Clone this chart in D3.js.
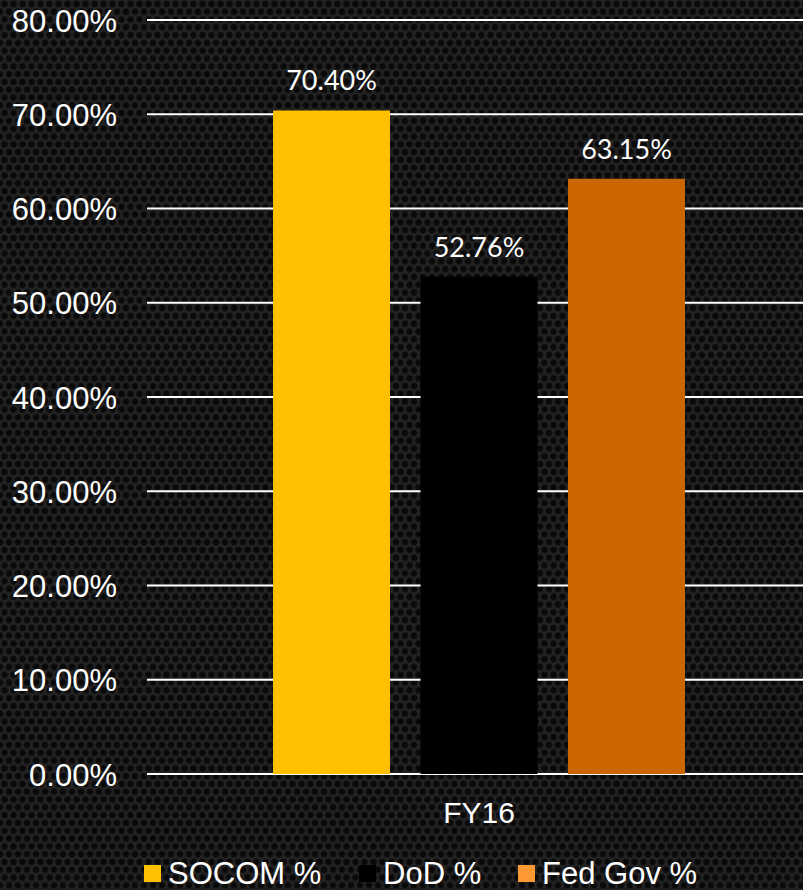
<!DOCTYPE html>
<html><head><meta charset="utf-8">
<script src="https://cdn.jsdelivr.net/npm/d3@7"></script>
<style>html,body{margin:0;padding:0;background:#1a1a1a;overflow:hidden}</style>
</head><body>
<svg id="chart" width="803" height="890"></svg>
<script>
const categories = ["FY16"];
const seriesNames = ["SOCOM %", "DoD %", "Fed Gov %"];
const seriesValues = [70.40, 52.76, 63.15];
const barColors = ["#FFC000", "#000000", "#CC6600"];
const legendColors = ["#FFC000", "#000000", "#FF9933"];
const yTicks = [0, 10, 20, 30, 40, 50, 60, 70, 80];

const svg = d3.select("#chart");
const W = 803, H = 890;
const defs = svg.append("defs");
const rg = defs.append("radialGradient").attr("id","dot");
rg.append("stop").attr("offset","0%").attr("stop-color","#060606");
rg.append("stop").attr("offset","70%").attr("stop-color","#0c0c0c");
rg.append("stop").attr("offset","100%").attr("stop-color","#1c1c1c");
const pat = defs.append("pattern").attr("id","hex").attr("patternUnits","userSpaceOnUse")
  .attr("width",9).attr("height",15.6);
pat.append("rect").attr("width",9).attr("height",15.6).attr("fill","#242424");
[[4.5,3.9],[0,11.7],[9,11.7]].forEach(([cx,cy])=>{
  pat.append("circle").attr("cx",cx).attr("cy",cy).attr("r",3.8).attr("fill","url(#dot)");
});
svg.append("rect").attr("width",W).attr("height",H).attr("fill","url(#hex)");

const y = d3.scaleLinear().domain([0, 80]).range([774, 20]);
const x0 = d3.scaleBand().domain(categories).range([147, 811]).paddingInner(0).paddingOuter(0.306);
const x1 = d3.scaleBand().domain(seriesNames).range([0, x0.bandwidth()]).paddingInner(0.207).paddingOuter(0);

const yAxis = d3.axisLeft(y).tickValues(yTicks).tickSize(0).tickPadding(30)
  .tickFormat(d => d3.format(".2f")(d) + "%");
const gy = svg.append("g").attr("transform","translate(147,0)").call(yAxis);
gy.select(".domain").remove();
gy.selectAll("text").attr("fill","#ffffff").style("font-family","'Liberation Sans', Arial, sans-serif")
  .style("font-size","31px").attr("dy","0.36em");

svg.append("g").selectAll("line").data(yTicks).join("line")
  .attr("x1",147).attr("x2",803).attr("y1",d=>y(d)).attr("y2",d=>y(d))
  .attr("stroke","#ffffff").attr("stroke-width",2);

const g = svg.append("g");
categories.forEach(cat => {
  const gg = g.append("g").attr("transform",`translate(${x0(cat)},0)`);
  gg.selectAll("rect").data(seriesNames).join("rect")
    .attr("x", d => x1(d)).attr("width", x1.bandwidth())
    .attr("y", (d,i) => y(seriesValues[i])).attr("height", (d,i) => y(0) - y(seriesValues[i]))
    .attr("fill", (d,i) => barColors[i]);
  gg.selectAll("text.lbl").data(seriesNames).join("text").attr("class","lbl")
    .attr("x", d => x1(d) + x1.bandwidth()/2)
    .attr("y", (d,i) => y(seriesValues[i]) - 20)
    .attr("text-anchor","middle").attr("fill","#ffffff")
    .style("font-family","Lato, 'Open Sans', sans-serif").style("font-size","27px")
    .text((d,i) => d3.format(".2f")(seriesValues[i]) + "%");
});

const xAxis = d3.axisBottom(x0).tickSize(0).tickPadding(28);
const gx = svg.append("g").attr("transform","translate(0,774)").call(xAxis);
gx.select(".domain").remove();
gx.selectAll("text").attr("fill","#ffffff").attr("dy","0.71em")
  .style("font-family","'Liberation Sans', Arial, sans-serif").style("font-size","30px");

const legX = [144, 359, 518];
const lg = svg.append("g");
seriesNames.forEach((s,i) => {
  lg.append("rect").attr("x",legX[i]).attr("y",865).attr("width",17).attr("height",17).attr("fill",legendColors[i]);
  lg.append("text").attr("x",legX[i]+24).attr("y",884).attr("fill","#ffffff")
    .style("font-family","'Liberation Sans', Arial, sans-serif").style("font-size","31px").text(s);
});
</script>
</body></html>
